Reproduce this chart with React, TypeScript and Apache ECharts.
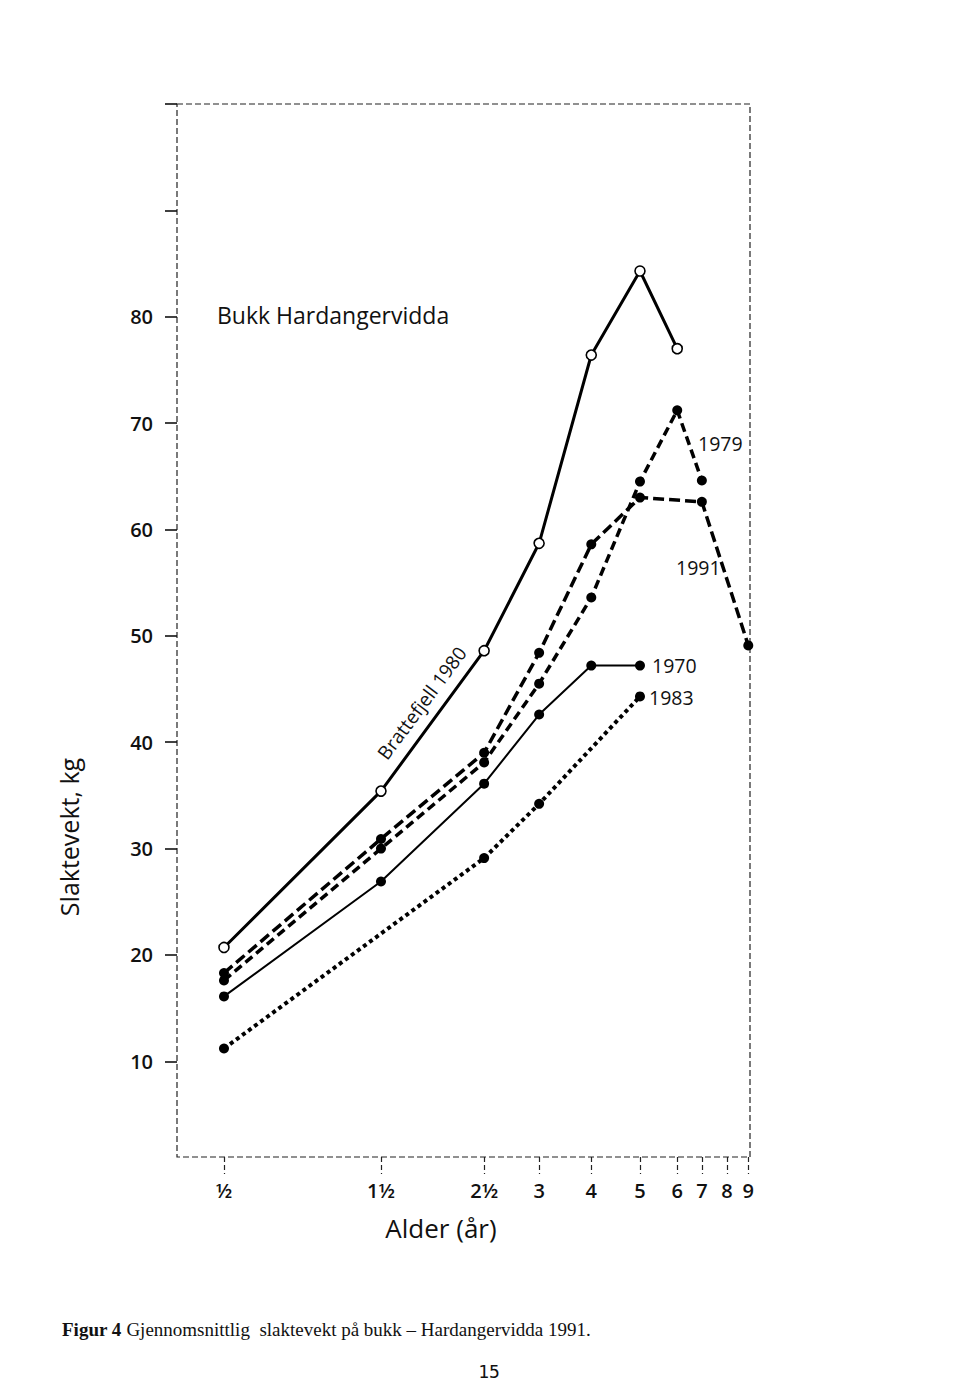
import React, { useEffect, useRef } from 'react';
import * as echarts from 'echarts';

// Age classes (years) and their printed labels
const ageLabels = ['½', '1½', '2½', '3', '4', '5', '6', '7', '8', '9'];
const ageYears = [0.5, 1.5, 2.5, 3, 4, 5, 6, 7, 8, 9];
// The printed age axis is hand-drawn and non-linear: place of each age class along it (0–100 scale)
const ageAxisPos = [8.2, 35.6, 53.6, 63.2, 72.3, 80.8, 87.3, 91.6, 96.0, 99.7];

// Weight axis
const yTickValues = [10, 20, 30, 40, 50, 60, 70, 80, 90, 100];
const yLabelValues = [10, 20, 30, 40, 50, 60, 70, 80];

// Series (age in years, carcass weight kg)
const bratteAges = [0.5, 1.5, 2.5, 3, 4, 5, 6];
const bratteKg = [20.7, 35.4, 48.6, 58.7, 76.4, 84.3, 77.0];

const y1979Ages = [0.5, 1.5, 2.5, 3, 4, 5, 6, 7];
const y1979Kg = [17.6, 30.0, 38.1, 45.5, 53.6, 64.5, 71.2, 64.6];

const y1991Ages = [0.5, 1.5, 2.5, 3, 4, 5, 7, 9];
const y1991Kg = [18.3, 30.9, 39.0, 48.4, 58.6, 63.0, 62.6, 49.1];

const y1970Ages = [0.5, 1.5, 2.5, 3, 4, 5];
const y1970Kg = [16.1, 26.9, 36.1, 42.6, 47.2, 47.2];

const y1983Ages = [0.5, 2.5, 3, 5];
const y1983Kg = [11.2, 29.1, 34.2, 44.3];

const SANS = '"Open Sans", "Noto Sans", sans-serif';
const SERIF = '"Liberation Serif", "Times New Roman", serif';

const agePos = (a: number) => ageAxisPos[ageYears.indexOf(a)];
const pts = (ages: number[], kg: number[]) => ages.map((a, i) => [agePos(a), kg[i]]);

export default function App() {
  const ref = useRef<HTMLDivElement>(null);

  useEffect(() => {
    if (!ref.current) return;
    const chart = echarts.init(ref.current, null, { renderer: 'svg' });

    const txt = (text: string, x: number, y: number, size: number, extra: any = {}) => ({
      type: 'text',
      x,
      y,
      style: {
        text,
        fontFamily: SANS,
        fontSize: size,
        fontWeight: 500,
        fill: '#111',
        align: 'left',
        verticalAlign: 'middle',
        ...(extra.style || {}),
      },
      ...(extra.el || {}),
    });

    const option: any = {
      animation: false,
      backgroundColor: '#fff',
      grid: {
        left: 177,
        top: 104,
        right: 210,
        bottom: 242,
        show: true,
        borderColor: '#222',
        borderWidth: 1.2,
        borderType: [6, 3],
        backgroundColor: 'transparent',
      },
      xAxis: {
        type: 'value',
        min: 0,
        max: 100,
        axisLine: { show: false },
        splitLine: { show: false },
        axisTick: {
          show: true,
          inside: false,
          length: 17,
          customValues: ageAxisPos,
          lineStyle: { color: '#222', width: 1.2, type: [5, 3] },
        },
        axisLabel: {
          show: true,
          customValues: ageAxisPos,
          margin: 23,
          fontSize: 20,
          fontWeight: 600,
          fontFamily: SANS,
          color: '#111',
          formatter: (v: number) => {
            const i = ageAxisPos.findIndex((p) => Math.abs(p - v) < 1e-6);
            return i >= 0 ? ageLabels[i] : '';
          },
        },
      },
      yAxis: {
        type: 'value',
        min: 1,
        max: 100,
        axisLine: { show: false },
        splitLine: { show: false },
        axisTick: {
          show: true,
          inside: false,
          length: 12,
          customValues: yTickValues,
          lineStyle: { color: '#111', width: 1.6 },
        },
        axisLabel: {
          show: true,
          customValues: yLabelValues,
          margin: 24,
          fontSize: 20,
          fontWeight: 600,
          fontFamily: SANS,
          color: '#111',
        },
      },
      series: [
        {
          name: 'Brattefjell 1980',
          type: 'line',
          data: pts(bratteAges, bratteKg),
          symbol: 'circle',
          symbolSize: 10,
          itemStyle: { color: '#fff', borderColor: '#000', borderWidth: 1.6 },
          lineStyle: { color: '#000', width: 3 },
          z: 5,
        },
        {
          name: '1979',
          type: 'line',
          data: pts(y1979Ages, y1979Kg),
          symbol: 'circle',
          symbolSize: 10,
          itemStyle: { color: '#000' },
          lineStyle: { color: '#000', width: 3.5, type: [9, 5] },
        },
        {
          name: '1991',
          type: 'line',
          data: pts(y1991Ages, y1991Kg),
          symbol: 'circle',
          symbolSize: 10,
          itemStyle: { color: '#000' },
          lineStyle: { color: '#000', width: 3.5, type: [11, 5] },
        },
        {
          name: '1970',
          type: 'line',
          data: pts(y1970Ages, y1970Kg),
          symbol: 'circle',
          symbolSize: 10,
          itemStyle: { color: '#000' },
          lineStyle: { color: '#000', width: 2 },
        },
        {
          name: '1983',
          type: 'line',
          data: pts(y1983Ages, y1983Kg),
          symbol: 'circle',
          symbolSize: 10,
          itemStyle: { color: '#000' },
          lineStyle: { color: '#000', width: 4, type: [4, 3.5] },
        },
      ],
      graphic: [
        txt('Bukk Hardangervidda', 217, 315, 23),
        txt('1979', 698, 443, 19.5),
        txt('1991', 676, 567, 19.5),
        txt('1970', 652, 665, 19.5),
        txt('1983', 649, 697, 19.5),
        txt('Brattefjell 1980', 422, 703, 19, {
          style: { align: 'center' },
          el: { rotation: 0.93, originX: 0, originY: 0 },
        }),
        txt('Slaktevekt, kg', 69, 837, 25, {
          style: { align: 'center' },
          el: { rotation: Math.PI / 2 },
        }),
        txt('Alder (år)', 441, 1228, 26, { style: { align: 'center' } }),
        {
          type: 'text',
          x: 62,
          y: 1329,
          style: {
            text: '{b|Figur 4} Gjennomsnittlig  slaktevekt på bukk – Hardangervidda 1991.',
            fontFamily: SERIF,
            fontSize: 19,
            fill: '#111',
            verticalAlign: 'middle',
            rich: {
              b: {
                fontFamily: SERIF,
                fontSize: 19,
                fontWeight: 'bold',
                fill: '#111',
              },
            },
          },
        },
        txt('15', 489, 1371, 18, {
          style: { align: 'center', fontWeight: 'normal', fontFamily: '"DejaVu Sans Mono", monospace' },
        }),
      ],
    };

    chart.setOption(option);
    return () => chart.dispose();
  }, []);

  return (
    <div
      ref={ref}
      style={{ position: 'absolute', left: 0, top: 0, width: 960, height: 1399 }}
    />
  );
}
